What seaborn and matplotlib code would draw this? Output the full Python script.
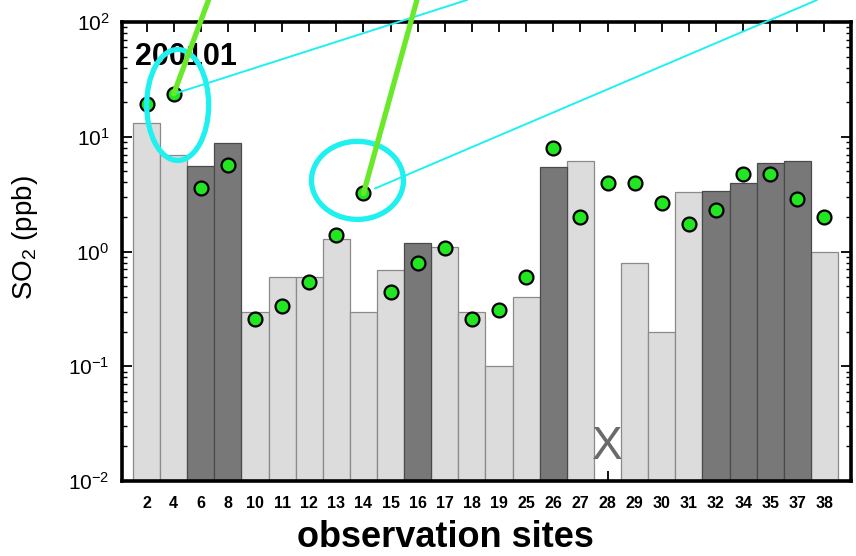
import numpy as np
import pandas as pd
import matplotlib.pyplot as plt
import seaborn as sns
from matplotlib.patches import Ellipse, ConnectionPatch
from matplotlib.transforms import IdentityTransform, blended_transform_factory
from matplotlib.ticker import LogLocator, NullFormatter

# observation sites (x categories)
sites = ['2', '4', '6', '8', '10', '11', '12', '13', '14', '15', '16', '17', '18',
         '19', '25', '26', '27', '28', '29', '30', '31', '32', '34', '35', '37', '38']
# bar values (ppb); site 28 has no bar (marked X)
bar_vals = [13.3, 7.0, 5.56, 8.77, 0.30, 0.60, 0.60, 1.29, 0.30, 0.69, 1.19, 1.09, 0.30,
            0.10, 0.40, 5.48, 6.1, np.nan, 0.80, 0.20, 3.28, 3.37, 3.93, 5.87, 6.1, 1.0]
bar_type = ['light', 'light', 'dark', 'dark', 'light', 'light', 'light', 'light', 'light',
            'light', 'dark', 'light', 'light', 'light', 'light', 'dark', 'light', 'light',
            'light', 'light', 'light', 'dark', 'dark', 'dark', 'dark', 'light']
# green circles (ppb)
point_vals = [19.2, 23.6, 3.56, 5.67, 0.256, 0.335, 0.546, 1.38, 3.21, 0.44, 0.80, 1.07,
              0.256, 0.309, 0.60, 7.98, 2.01, 3.98, 3.98, 2.66, 1.73, 2.30, 4.71, 4.71,
              2.85, 1.98]
period = '200101'
missing_site = '28'

df = pd.DataFrame({'site': sites, 'bar': bar_vals, 'type': bar_type, 'point': point_vals})
df['pos'] = np.arange(len(df))

sns.set_style('ticks')
plt.rcParams['font.family'] = 'Liberation Sans'
plt.rcParams['mathtext.fontset'] = 'custom'
plt.rcParams['mathtext.rm'] = 'Liberation Sans'
plt.rcParams['mathtext.default'] = 'regular'
for k in ['text.color', 'axes.labelcolor', 'xtick.color', 'ytick.color']:
    plt.rcParams[k] = 'black'

fig = plt.figure(figsize=(8.56, 5.56), dpi=100)
ax = fig.add_axes([0.14252, 0.13489, 0.85164, 0.82554])

sns.barplot(data=df, x='site', y='bar', hue='type', order=sites, dodge=False,
            palette={'light': '#dcdcdc', 'dark': '#787878'}, width=1, errorbar=None,
            linewidth=0.9, legend=False, ax=ax)
for p in ax.patches:
    fc = p.get_facecolor()
    p.set_edgecolor('#8a8a8a' if fc[0] > 0.5 else '#4a4a4a')

sns.scatterplot(data=df, x='pos', y='point', color='#22e622', edgecolor='black',
                linewidth=1.6, s=100, zorder=3, legend=False, ax=ax)

ax.set_yscale('log')
ax.set_ylim(1e-2, 1e2)
ax.set_xlim(-0.906, 25.98)
ax.yaxis.set_minor_locator(LogLocator(base=10, subs=np.arange(2, 10)))
ax.yaxis.set_minor_formatter(NullFormatter())
ax.set_axisbelow(True)

ax.set_xticks(np.arange(len(sites)))
ax.set_xticklabels(sites)
ax.tick_params(axis='x', which='both', direction='in', top=True, bottom=True,
               length=7, width=1.3, labelsize=11.5, pad=11)
ax.tick_params(axis='x', which='minor', length=0)
ax.tick_params(axis='y', which='major', direction='in', left=True, right=True,
               length=7, width=1.3, labelsize=15, pad=9)
ax.tick_params(axis='y', which='minor', direction='in', left=True, right=True,
               length=3.5, width=1.0)
for lab in ax.get_xticklabels():
    lab.set_fontweight('bold')

for s in ax.spines.values():
    s.set_linewidth(2.6)
    s.set_color('black')

ax.set_xlabel('observation sites', fontsize=26, fontweight='bold')
ax.set_ylabel('SO$_2$ (ppb)', fontsize=20)
ax.xaxis.set_label_coords(0.444, -0.085)
ax.yaxis.set_label_coords(-0.112, 0.53)

ax.text(0.018, 0.906, period, transform=ax.transAxes, fontsize=22, fontweight='bold',
        ha='left', va='baseline', zorder=3)

# missing data marker
miss = sites.index(missing_site)
trans = blended_transform_factory(ax.transData, ax.transAxes)
ax.text(miss, 0.075, 'X', transform=trans, fontsize=33, color='#6a6a6a',
        ha='center', va='center', zorder=3)

# highlighted points with call-out lines
i4 = sites.index('4')
i14 = sites.index('14')
p4 = ax.transData.transform((i4, point_vals[i4]))
p14 = ax.transData.transform((i14, point_vals[i14]))

for (i, end, shrink) in [(i4, (467, 556), 0), (i14, (817, 556), 9)]:
    con = ConnectionPatch(xyA=(i, point_vals[i]), coordsA=ax.transData,
                          xyB=end, coordsB='figure pixels', color='#1ff0f0',
                          lw=1.4, shrinkA=shrink, shrinkB=0, zorder=4)
    fig.add_artist(con)

fig.add_artist(Ellipse((p4[0] + 4, p4[1] - 11), 62, 111, transform=IdentityTransform(),
                       fill=False, ec='#1ff0f0', lw=3.8, zorder=5))
fig.add_artist(Ellipse((p14[0] - 6, p14[1] + 13), 92, 78, transform=IdentityTransform(),
                       fill=False, ec='#1ff0f0', lw=3.8, zorder=5))

for (i, end) in [(i4, (210, 560)), (i14, (418, 560))]:
    con = ConnectionPatch(xyA=(i, point_vals[i]), coordsA=ax.transData,
                          xyB=end, coordsB='figure pixels', color='#6ae82a',
                          lw=3.8, shrinkA=0, shrinkB=0, zorder=6)
    fig.add_artist(con)

fig.savefig('out.png', dpi=100)
